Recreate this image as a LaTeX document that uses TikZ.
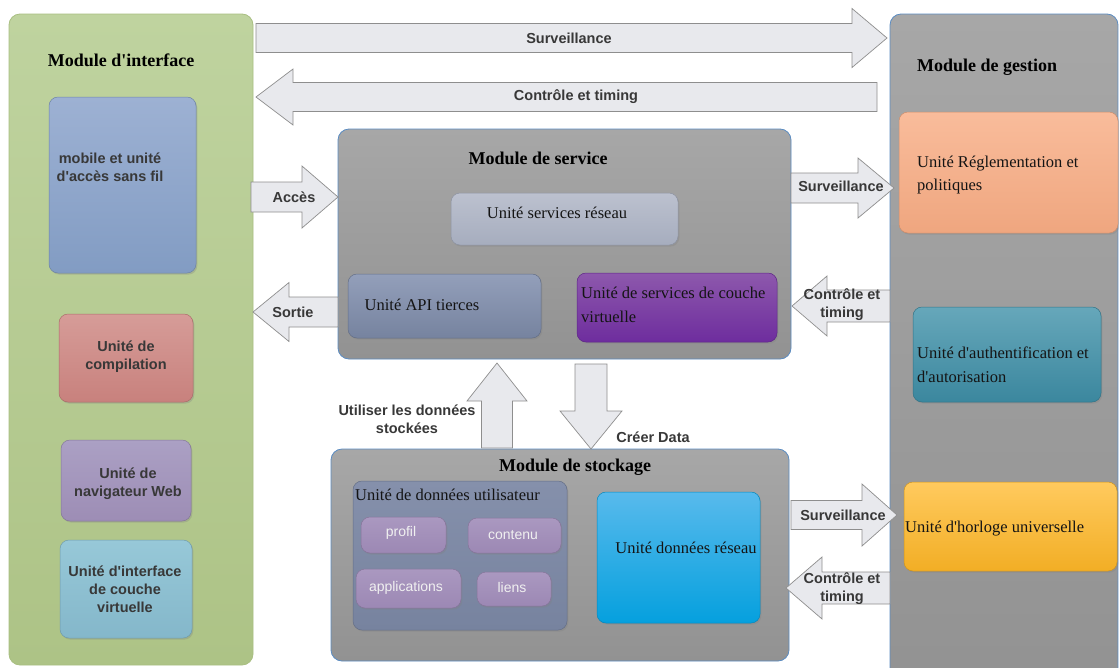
\documentclass[tikz,border=0pt]{standalone}
\usepackage{fontspec}
\setmainfont{Liberation Serif}
\newfontfamily\labelsans{Liberation Sans}
\usetikzlibrary{shadows,calc}

% palette
\definecolor{ifaceTop}{HTML}{BFD39F}  \definecolor{ifaceBot}{HTML}{ADC386}  \definecolor{ifaceLine}{HTML}{A9BF82}
\definecolor{modTop}{HTML}{A7A7A7}    \definecolor{modBot}{HTML}{929292}    \definecolor{modLine}{HTML}{5B8CC2}
\definecolor{mobTop}{HTML}{9DB1D3}    \definecolor{mobBot}{HTML}{829CC3}
\definecolor{compTop}{HTML}{D69C98}   \definecolor{compBot}{HTML}{C8817D}
\definecolor{navTop}{HTML}{ABA0C4}    \definecolor{navBot}{HTML}{9D8DB5}
\definecolor{ivcTop}{HTML}{97C8D8}    \definecolor{ivcBot}{HTML}{84B7CA}
\definecolor{srvTop}{HTML}{BCC1CF}    \definecolor{srvBot}{HTML}{A6ADBE}
\definecolor{apiTop}{HTML}{939FBA}    \definecolor{apiBot}{HTML}{76839F}
\definecolor{vlTop}{HTML}{8D58AC}     \definecolor{vlBot}{HTML}{6E2D9E}
\definecolor{udTop}{HTML}{8590AB}     \definecolor{udBot}{HTML}{77839F}
\definecolor{chipTop}{HTML}{AA98C0}   \definecolor{chipBot}{HTML}{9C88B4}
\definecolor{udrTop}{HTML}{58BAEC}    \definecolor{udrBot}{HTML}{05A0DE}
\definecolor{regTop}{HTML}{F9BC9B}    \definecolor{regBot}{HTML}{EFA67F}
\definecolor{authTop}{HTML}{66A7BA}   \definecolor{authBot}{HTML}{3B879E}
\definecolor{horTop}{HTML}{FFCA5E}    \definecolor{horBot}{HTML}{F2AE25}
\definecolor{arrowFill}{HTML}{E8E9ED} \definecolor{arrowLine}{HTML}{8E8E8E}
\definecolor{txtGray}{HTML}{383838}   \definecolor{txtDark}{HTML}{141414}

\tikzset{
  module/.style={draw=#1, line width=0.8pt, rounded corners=11pt, anchor=north west,
                 inner sep=0pt, outer sep=0pt},
  unit/.style={draw=#1, line width=0.5pt, rounded corners=9pt, anchor=north west,
               inner sep=0pt, outer sep=0pt,
               drop shadow={opacity=0.3, shadow xshift=1.3pt, shadow yshift=-1.6pt}},
  grad/.style 2 args={top color=#1, bottom color=#2},
  title/.style={font=\fontsize{18}{20}\selectfont\bfseries, text=black, inner sep=0pt},
  serif/.style={font=\fontsize{16.5}{23.5}\selectfont, text=txtDark, align=left, inner sep=0pt},
  sansb/.style={font=\labelsans\fontsize{14.5}{18}\selectfont\bfseries, text=txtGray,
                align=center, inner sep=0pt},
  chip/.style={font=\labelsans\fontsize{14}{16}\selectfont, text=white!94!black, inner sep=0pt},
  fatarrow/.style={fill=arrowFill, draw=arrowLine, line width=0.7pt, line join=miter},
}

% straight apostrophe in the serif face
\newcommand\ap{\textquotesingle}

% block arrow: #2 tip point, #3 direction angle, #4 total length,
% #5 half body width, #6 half head width, #7 head length
\newcommand\blockarrow[7][]{%
  \begin{scope}[shift={#2}, rotate=#3]
    \draw[fatarrow,#1] (0,0) -- (-#7,#6) -- (-#7,#5) -- (-#4,#5) -- (-#4,-#5)
      -- (-#7,-#5) -- (-#7,-#6) -- cycle;
  \end{scope}}

\begin{document}
\begin{tikzpicture}[x=1pt, y=-1pt]
\useasboundingbox (0,0) rectangle (1119,667);
\fill[white] (0,0) rectangle (1119,667);
\clip (0,0) rectangle (1119,667);

% ---------------- interface module ----------------
\node[module=ifaceLine, grad={ifaceTop}{ifaceBot}, minimum width=244pt, minimum height=651pt]
  (iface) at (9,14) {};
\node[title] (ifaceT) at (121,60) {Module d\ap interface};

\node[unit=mobBot!85!black, grad={mobTop}{mobBot}, minimum width=147pt, minimum height=176pt]
  (mob) at (49,97) {};
\node[sansb] (mobT) at (110,167) {mobile et unité\\ d'accès sans fil};

\node[unit=compBot!85!black, grad={compTop}{compBot}, minimum width=134pt, minimum height=88pt]
  (comp) at (59,314) {};
\node[sansb] (compT) at (126,357) {Unité de\\compilation};

\node[unit=navBot!85!black, grad={navTop}{navBot}, minimum width=130pt, minimum height=81pt]
  (nav) at (61,440) {};
\node[sansb] (navT) at (128,484) {Unité de\\navigateur Web};

\node[unit=ivcBot!85!black, grad={ivcTop}{ivcBot}, minimum width=132pt, minimum height=98pt]
  (ivc) at (60,540) {};
\node[sansb] (ivcT) at (125,589) {Unité d'interface\\de couche\\virtuelle};

% ---------------- management module ----------------
\node[module=modLine, grad={modTop}{modBot}, minimum width=228pt, minimum height=680pt]
  (gest) at (890,14) {};
\node[title, anchor=west] (gestT) at (917,67) {Module de gestion};

\node[unit=regBot!85!black, grad={regTop}{regBot}, minimum width=219pt, minimum height=121pt]
  (reg) at (899,112) {};
\node[serif, anchor=west] (regT) at (917,175) {Unité Réglementation et\\politiques};

\node[unit=authBot!85!black, grad={authTop}{authBot}, minimum width=188pt, minimum height=95pt]
  (auth) at (913,307) {};
\node[serif, anchor=west] (authT) at (917,365) {Unité d\ap authentification et\\d\ap autorisation};

\node[unit=horBot!85!black, grad={horTop}{horBot}, minimum width=213pt, minimum height=89pt]
  (hor) at (904,482) {};
\node[serif, anchor=west] (horT) at (905,529) {Unité d\ap horloge universelle};

% ---------------- service module ----------------
\node[module=modLine, grad={modTop}{modBot}, minimum width=453pt, minimum height=230pt]
  (serv) at (338,129) {};
\node[title] (servT) at (538,158) {Module de service};

\node[unit=srvBot!85!black, grad={srvTop}{srvBot}, minimum width=227pt, minimum height=52pt]
  (srv) at (451,193) {};
\node[serif] (srvT) at (557,213) {Unité services réseau};

\node[unit=apiBot!85!black, grad={apiTop}{apiBot}, minimum width=193pt, minimum height=64pt]
  (api) at (348,274) {};
\node[serif] (apiT) at (422,305) {Unité API tierces};

\node[unit=vlBot!85!black, grad={vlTop}{vlBot}, minimum width=200pt, minimum height=69pt]
  (vl) at (577,273) {};
\node[serif, anchor=west] (vlT) at (581,305) {Unité de services de couche\\virtuelle};

% ---------------- storage module ----------------
\node[module=modLine, grad={modTop}{modBot}, minimum width=458pt, minimum height=212pt]
  (stock) at (331,449) {};
\node[title] (stockT) at (575,467) {Module de stockage};

\node[unit=udBot!85!black, grad={udTop}{udBot}, minimum width=214pt, minimum height=149pt]
  (ud) at (353,481) {};
\node[serif, anchor=west] (udT) at (355,495) {Unité de données utilisateur};

\node[unit=chipBot!85!black, grad={chipTop}{chipBot}, minimum width=85pt, minimum height=36pt]
  (profil) at (361,517) {};
\node[chip] (profilT) at (401,533) {profil};
\node[unit=chipBot!85!black, grad={chipTop}{chipBot}, minimum width=93pt, minimum height=35pt]
  (contenu) at (468,518) {};
\node[chip] (contenuT) at (513,535) {contenu};
\node[unit=chipBot!85!black, grad={chipTop}{chipBot}, minimum width=105pt, minimum height=39pt]
  (appli) at (356,569) {};
\node[chip] (appliT) at (406,588) {applications};
\node[unit=chipBot!85!black, grad={chipTop}{chipBot}, minimum width=74pt, minimum height=34pt]
  (liens) at (477,572) {};
\node[chip] (liensT) at (512,587) {liens};

\node[unit=udrBot!85!black, grad={udrTop}{udrBot}, minimum width=163pt, minimum height=131pt]
  (udr) at (597,492) {};
\node[serif] (udrT) at (686,548) {Unité données réseau};

% ---------------- block arrows ----------------
% interface <-> management
\blockarrow{($(gest.west |- 0,38)+(-3,0)$)}{0}{631}{14.5}{29.5}{35}
\node[sansb] (survA) at (569,38) {Surveillance};
\blockarrow{($(iface.east |- 0,97)+(3,0)$)}{180}{621}{14.5}{28}{37}
\node[sansb] (ctrlA) at (576,97) {Contrôle et timing};

% interface <-> service
\blockarrow{(serv.west |- 0,197)}{0}{87}{15}{31}{36}
\node[sansb] (accA) at (294,197) {Accès};
\blockarrow{(iface.east |- 0,312)}{180}{85}{15}{29.5}{36}
\node[sansb] (sortA) at (293,312) {Sortie};

% service <-> management
\blockarrow{($(gest.west |- 0,188)+(4,0)$)}{0}{103}{15}{30}{36}
\node[sansb] (survB) at (841,186) {Surveillance};
\blockarrow{($(serv.east |- 0,306)+(1,0)$)}{180}{98}{16}{30}{35}
\node[sansb] (ctrlB) at (842,305) {Contrôle et\\timing};

% storage <-> management
\blockarrow{($(gest.west |- 0,515)+(7,0)$)}{0}{106}{14.5}{31}{35}
\node[sansb] (survC) at (843,515) {Surveillance};
\blockarrow{($(stock.east |- 0,588)+(-3,0)$)}{180}{104}{16}{31}{36}
\node[sansb] (ctrlC) at (842,589) {Contrôle et\\timing};

% service <-> storage
\blockarrow{($(serv.south -| 497,0)+(0,4)$)}{90}{85}{15.5}{30}{38}
\node[sansb] (useA) at (407,419) {Utiliser les données\\stockées};
\blockarrow{(stock.north -| 591,0)}{-90}{85}{16}{31}{38}
\node[sansb] (creA) at (653,437) {Créer Data};

\end{tikzpicture}
\end{document}
